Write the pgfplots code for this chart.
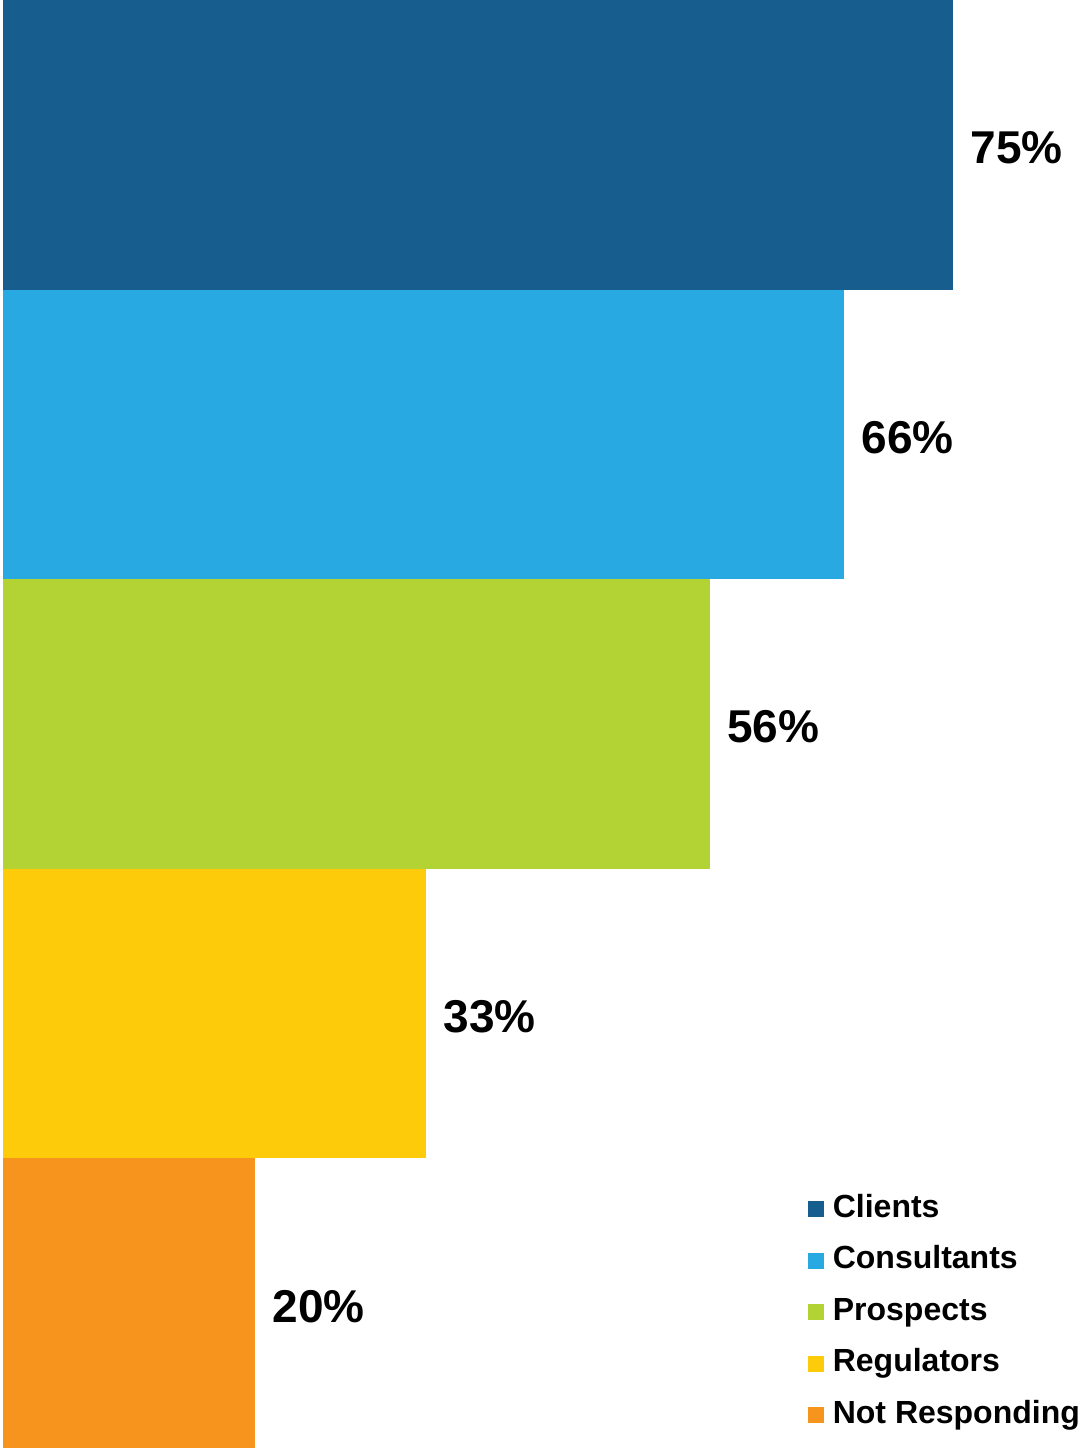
\documentclass[border=0pt]{standalone}
\usepackage{pgfplots}
\pgfplotsset{compat=1.18}
\usepackage{fontspec}
\setmainfont{Liberation Sans}
\definecolor{cClients}{HTML}{175E8F}
\definecolor{cConsult}{HTML}{29A9E1}
\definecolor{cProsp}{HTML}{B3D335}
\definecolor{cRegul}{HTML}{FECB0B}
\definecolor{cNotResp}{HTML}{F7941E}
\begin{document}
\begin{tikzpicture}
\begin{axis}[
  scale only axis,
  width=539pt, height=724pt,
  hide axis,
  xmin=-0.237, xmax=84.85,
  ymin=-0.5, ymax=4.5,
  xbar, bar width=1, bar shift=0pt,
  point meta=x,
  nodes near coords={\pgfmathprintnumber[fixed,precision=0,assume math mode=true]{\pgfplotspointmeta}\%},
  every node near coord/.append style={font=\fontsize{23}{27}\selectfont\bfseries, text=black, anchor=west, inner sep=0pt, xshift=8.5pt, yshift=-1.5pt},
  legend image code/.code={\fill[#1] (0pt,-4pt) rectangle (8pt,4pt);},
  legend style={draw=none, fill=none, at={(rel axis cs:0.749,0.012)}, anchor=south west,
    font=\fontsize{16}{19}\selectfont\bfseries, inner sep=0pt,
    nodes={inner sep=0pt, text height=11.5pt, text depth=3.5pt},
    row sep=10.75pt, cells={anchor=west}},
  legend cell align=left,
]
\path (rel axis cs:0,0) rectangle (rel axis cs:1,1);
\addplot[fill=cClients, draw=none] coordinates {(75,4)};
\addplot[fill=cConsult, draw=none] coordinates {(66.4,3)};
\addplot[fill=cProsp, draw=none] coordinates {(55.8,2)};
\addplot[fill=cRegul, draw=none] coordinates {(33.4,1)};
\addplot[fill=cNotResp, draw=none] coordinates {(19.9,0)};
\legend{\hspace{4.5pt}Clients,\hspace{4.5pt}Consultants,\hspace{4.5pt}Prospects,\hspace{4.5pt}Regulators,\hspace{4.5pt}Not Responding}
\end{axis}
\end{tikzpicture}
\end{document}
